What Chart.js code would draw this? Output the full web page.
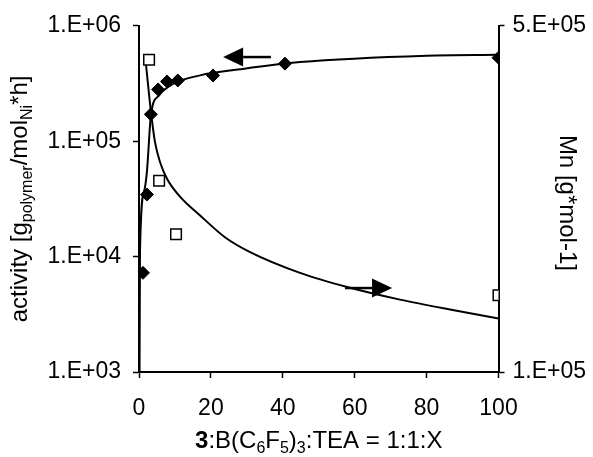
<!DOCTYPE html>
<html lang="en">
<head>
<meta charset="UTF-8">
<title>activity and Mn</title>
<script src="https://cdn.jsdelivr.net/npm/chart.js@4.4.0/dist/chart.umd.min.js"></script>
<style>
    body { margin: 0; background: #fff; }
</style>
</head>
<body>
<canvas id="wykres" width="593" height="457"></canvas>
<script>
// diamonds - activity (left axis)
const xActivity = [1.1, 2.2, 3.3, 5.3, 7.8, 10.8, 20.6, 40.6, 100];
const activity = [7230, 34500, 171000, 281000, 329000, 336000, 371000, 470000, 529000];
// squares - Mn (right axis)
const xMn = [2.8, 5.6, 10.3, 100];
const mn = [460700, 321000, 259200, 188700];
// fitted curves
const xActFit = [0.15, 0.28, 1.4, 2.2, 3.34, 5.57, 9.2, 17, 28.1, 44.8, 80.1, 100];
const actFit = [1000, 11200, 36600, 54300, 171000, 249500, 310000, 372000, 420000, 485000, 551000, 561000];
const xMnFit = [1.95, 3.34, 4.45, 5.84, 7.79, 11.4, 17.0, 23.9, 30.9, 44.8, 58.7, 72.6, 86.5, 100];
const mnFit = [455000, 400000, 365600, 342700, 323300, 302700, 280900, 255700, 238500, 214500, 197300, 183600, 172100, 161800];
// ticks
const leftTicks = [1e3, 1e4, 1e5, 1e6];
const leftTickLabels = ['1.E+03', '1.E+04', '1.E+05', '1.E+06'];
const rightTicks = [1e5, 5e5];
const rightTickLabels = ['1.E+05', '5.E+05'];
// arrows: tail x, tip x, y on given axis
const arrowLeft = { from: 36.7, to: 23.4, y: 536000, axis: 'y' };
const arrowRight = { from: 57.3, to: 70.4, y: 197000, axis: 'y2' };

const FONT = "Arial, 'Liberation Sans', sans-serif";

function pts(xs, ys) {
    return xs.map((x, i) => ({ x: x, y: ys[i] }));
}

function drawParts(ctx, parts, cx, cy, angle) {
    ctx.save();
    ctx.translate(cx, cy);
    ctx.rotate(angle);
    let total = 0;
    parts.forEach(p => { ctx.font = p.f; p.w = ctx.measureText(p.t).width; total += p.w; });
    let x = -total / 2;
    ctx.fillStyle = '#000';
    ctx.textBaseline = 'alphabetic';
    parts.forEach(p => { ctx.font = p.f; ctx.fillText(p.t, x, p.dy); x += p.w; });
    ctx.restore();
}

function drawArrow(ctx, chart, a) {
    const x0 = chart.scales.x.getPixelForValue(a.from);
    const x1 = chart.scales.x.getPixelForValue(a.to);
    const y = chart.scales[a.axis].getPixelForValue(a.y);
    const dir = x1 > x0 ? 1 : -1;
    const base = x1 - dir * 20;
    ctx.save();
    ctx.strokeStyle = '#000';
    ctx.fillStyle = '#000';
    ctx.lineWidth = 2.5;
    ctx.beginPath();
    ctx.moveTo(x0, y);
    ctx.lineTo(base, y);
    ctx.stroke();
    ctx.beginPath();
    ctx.moveTo(x1, y);
    ctx.lineTo(base, y - 9.5);
    ctx.lineTo(base, y + 9.5);
    ctx.closePath();
    ctx.fill();
    ctx.restore();
}

const titles = {
    id: 'titles',
    afterDatasetsDraw(chart) {
        const ctx = chart.ctx;
        drawArrow(ctx, chart, arrowLeft);
        drawArrow(ctx, chart, arrowRight);
    },
    afterDraw(chart) {
        const ctx = chart.ctx;
        const a = chart.chartArea;
        const big = '24px ' + FONT;
        const small = '16px ' + FONT;
        const bold = 'bold 24px ' + FONT;
        drawParts(ctx, [
            { t: 'activity [g', f: big, dy: 8 },
            { t: 'polymer', f: small, dy: 13 },
            { t: '/mol', f: big, dy: 8 },
            { t: 'Ni', f: small, dy: 13 },
            { t: '*h]', f: big, dy: 8 }
        ], 19, (a.top + a.bottom) / 2, -Math.PI / 2);
        drawParts(ctx, [
            { t: 'Mn [g*mol-1]', f: big, dy: 8 }
        ], 568, (a.top + a.bottom) / 2 + 4, Math.PI / 2);
        drawParts(ctx, [
            { t: '3', f: bold, dy: 8 },
            { t: ':B(C', f: big, dy: 8 },
            { t: '6', f: small, dy: 13 },
            { t: 'F', f: big, dy: 8 },
            { t: '5', f: small, dy: 13 },
            { t: ')', f: big, dy: 8 },
            { t: '3', f: small, dy: 13 },
            { t: ':TEA = 1:1:X', f: big, dy: 8 }
        ], (a.left + a.right) / 2, 440, 0);
    }
};

const ctx = document.getElementById('wykres').getContext('2d');
const wykres = new Chart(ctx, {
    type: 'scatter',
    data: {
        datasets: [
            {
                label: 'activity',
                data: pts(xActivity, activity),
                yAxisID: 'y',
                pointStyle: 'rectRot',
                pointRadius: 6.5,
                backgroundColor: '#000',
                borderColor: '#000',
                borderWidth: 1,
                order: 0
            },
            {
                label: 'Mn',
                data: pts(xMn, mn),
                yAxisID: 'y2',
                pointStyle: 'rect',
                pointRadius: 7.5,
                backgroundColor: '#fff',
                borderColor: '#000',
                borderWidth: 1.5,
                order: 0
            },
            {
                label: 'activity fit',
                data: pts(xActFit, actFit),
                yAxisID: 'y',
                showLine: true,
                pointRadius: 0,
                borderColor: '#000',
                borderWidth: 2,
                cubicInterpolationMode: 'monotone',
                order: 1
            },
            {
                label: 'Mn fit',
                data: pts(xMnFit, mnFit),
                yAxisID: 'y2',
                showLine: true,
                pointRadius: 0,
                borderColor: '#000',
                borderWidth: 2,
                cubicInterpolationMode: 'monotone',
                order: 1
            }
        ]
    },
    options: {
        responsive: false,
        animation: false,
        layout: { padding: { top: 22.7, left: 0, right: 0, bottom: 0 } },
        plugins: { legend: { display: false }, tooltip: { enabled: false } },
        scales: {
            x: {
                type: 'linear',
                min: 0,
                max: 100,
                ticks: { stepSize: 20, color: '#000', font: { family: FONT, size: 23 }, padding: 17, maxRotation: 0 },
                grid: { drawOnChartArea: false, drawTicks: true, tickLength: 6, tickColor: '#000', tickWidth: 1.5 },
                border: { color: '#000', width: 2 },
                afterFit(s) { s.height = 85; }
            },
            y: {
                type: 'logarithmic',
                position: 'left',
                min: 1000,
                max: 1e6,
                afterBuildTicks(s) { s.ticks = leftTicks.map(v => ({ value: v })); },
                ticks: {
                    color: '#000',
                    font: { family: FONT, size: 23 },
                    padding: 12,
                    callback: (v) => leftTickLabels[leftTicks.indexOf(v)]
                },
                grid: { drawOnChartArea: false, drawTicks: true, tickLength: 6, tickColor: '#000', tickWidth: 1.5 },
                border: { color: '#000', width: 2 },
                afterFit(s) { s.width = 139; }
            },
            y2: {
                type: 'linear',
                position: 'right',
                min: 1e5,
                max: 5e5,
                afterBuildTicks(s) { s.ticks = rightTicks.map(v => ({ value: v })); },
                ticks: {
                    color: '#000',
                    font: { family: FONT, size: 23 },
                    padding: 8,
                    callback: (v) => rightTickLabels[rightTicks.indexOf(v)]
                },
                grid: { drawOnChartArea: false, drawTicks: true, tickLength: 6, tickColor: '#000', tickWidth: 1.5 },
                border: { color: '#000', width: 2 },
                afterFit(s) { s.width = 94.5; }
            }
        }
    },
    plugins: [titles]
});
</script>
</body>
</html>
